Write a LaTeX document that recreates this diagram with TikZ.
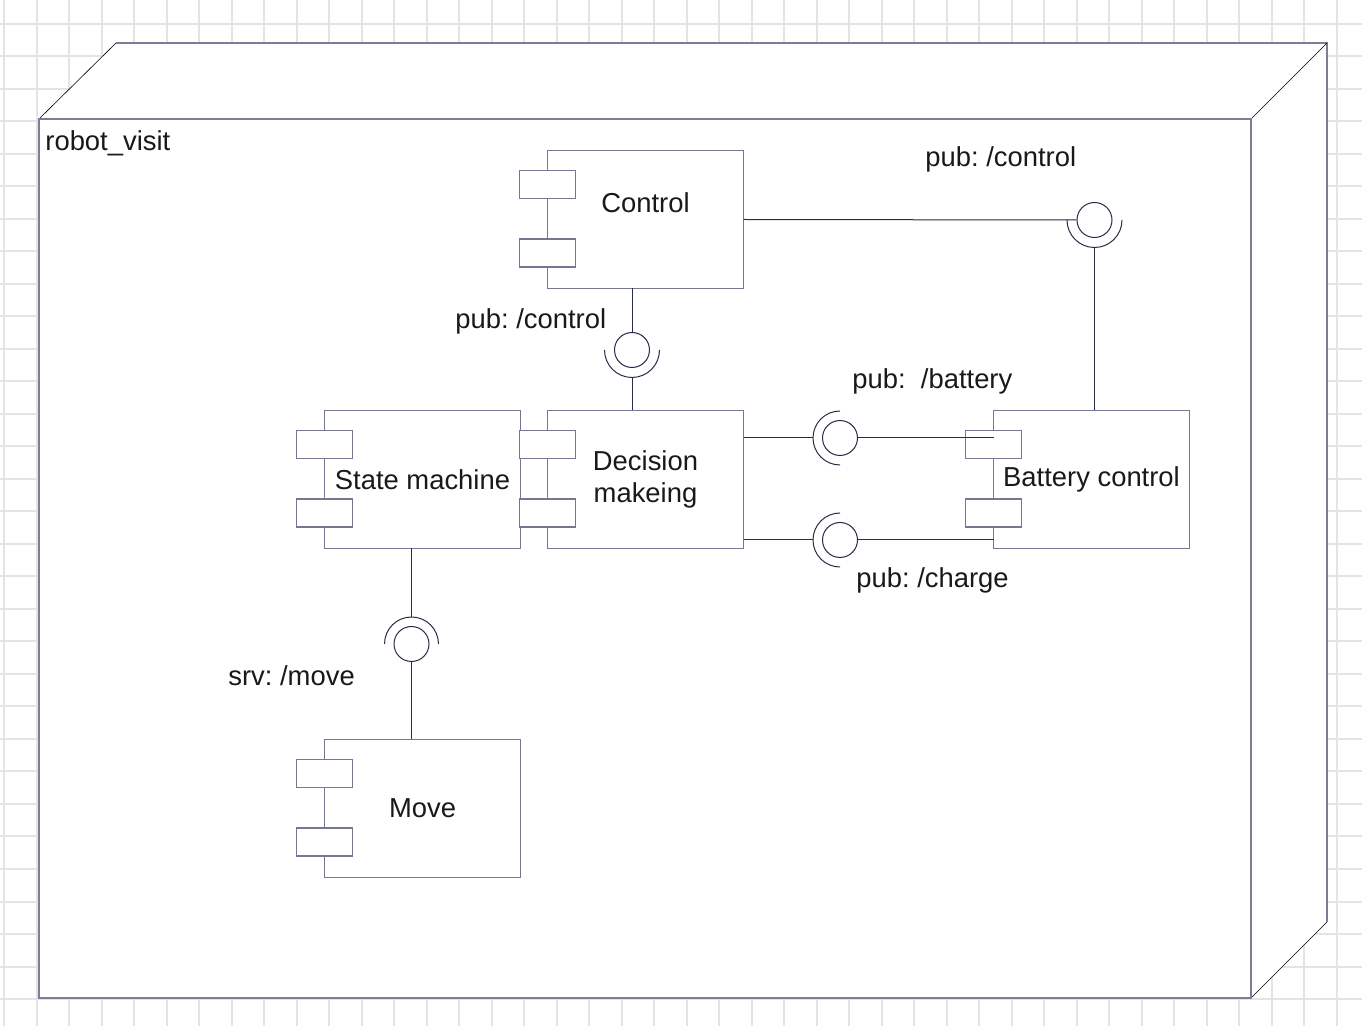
\documentclass[tikz,border=0pt]{standalone}
\usepackage{fontspec}
\setmainfont{Liberation Sans}
\usetikzlibrary{positioning}
\frenchspacing

\definecolor{umlline}{RGB}{116,120,146}
\definecolor{wirecol}{RGB}{40,44,70}
\definecolor{gridcol}{RGB}{228,228,228}
\definecolor{framecol}{RGB}{122,126,150}

\begin{document}
\begin{tikzpicture}[x=0.5pt, y=-0.5pt,
every node/.style={font=\fontsize{13.7}{16}\selectfont, text=black!90},
compbox/.style={rectangle, draw=umlline, fill=white, line width=0.75pt, minimum width=98pt, minimum height=69pt, inner sep=0pt, outer sep=0pt, align=center},
portbox/.style={rectangle, draw=umlline, fill=white, line width=0.75pt, minimum width=28pt, minimum height=14pt, inner sep=0pt, outer sep=0pt},
ball/.style={circle, draw=wirecol, fill=white, line width=0.5pt, minimum size=17.5pt, inner sep=0pt},
socket/.style={draw=wirecol, line width=0.5pt},
wire/.style={draw=wirecol, line width=0.5pt},
iflabel/.style={anchor=base west, inner sep=0pt},
gridline/.style={draw=gridcol, line width=1pt},
]
\fill[white] (0,0) rectangle (1362,1026);
\useasboundingbox (0,0) rectangle (1362,1026);

%Grid
\foreach \gx in {0,...,41} \draw[gridline] ({4+32.5*\gx},0) -- ({4+32.5*\gx},1026);
\foreach \gy in {0,...,30} \draw[gridline] (0,{24+32.5*\gy}) -- (1362,{24+32.5*\gy});

%Frame
\fill[white] (39,119) -- (116,43) -- (1327,43) -- (1327,922) -- (1251,998) -- cycle;
\draw[framecol, line width=1pt] (116,43) -- (1327,43) -- (1327,922);
\draw[black, line width=0.3pt] (39,119) -- (116,43) (1251,119) -- (1327,43) (1251,998) -- (1327,922);
\draw[framecol, line width=1pt, fill=white] (39,119) rectangle (1251,998);
\node[iflabel] (framename) at (45,151) {robot\_visit};

%Nodes
\node[compbox]      (decision)     at (645.5,479.5)           {Decision\\makeing};
\node[compbox]      (statemachine) [left=13.5pt of decision]  {State machine};
\node[compbox, label={[yshift=8.5pt]center:Control}] (control) [above=61pt of decision] {};
\node[compbox]      (battery)      [right=125pt of decision]  {Battery control};
\node[compbox]      (move)         [below=95.5pt of statemachine] {Move};

\foreach \comp in {control,statemachine,decision,battery,move}{
  \node[portbox] (\comp-porta) at ([yshift=-17pt]\comp.north west) {};
  \node[portbox] (\comp-portb) at ([yshift=-51.25pt]\comp.north west) {};
}

%Interfaces
\node[ball] (ctlball) at (632,350)    {};
\node[ball] (topball) at (1094.5,220) {};
\node[ball] (batball) at (840,438)    {};
\node[ball] (chgball) at (840,540)    {};
\node[ball] (movball) at (411.5,644)  {};

\draw[socket] ([shift={(180:13.75pt)}]ctlball.center) arc[start angle=180, end angle=360, radius=13.75pt];
\draw[socket] ([shift={(180:13.75pt)}]topball.center) arc[start angle=180, end angle=360, radius=13.75pt];
\draw[socket] ([shift={(90:13.5pt)}]batball.center) arc[start angle=90, end angle=270, radius=13.5pt];
\draw[socket] ([shift={(90:13.5pt)}]chgball.center) arc[start angle=90, end angle=270, radius=13.5pt];
\draw[socket] ([shift={(0:13.5pt)}]movball.center) arc[start angle=0, end angle=180, radius=13.5pt];

%Lines
\draw[wire] (ctlball |- control.south) -- (ctlball.north);
\draw[wire] ([yshift=-13.75pt]ctlball.center) -- (ctlball |- decision.north);
\draw[wire] (control.east) -- (topball.west);
\draw[wire] ([yshift=-13.75pt]topball.center) -- (topball |- battery.north);
\draw[wire] (decision.east |- batball) -- ([xshift=-13.5pt]batball.center);
\draw[wire] (batball.east) -- (battery.west |- batball);
\draw[wire] (decision.east |- chgball) -- ([xshift=-13.5pt]chgball.center);
\draw[wire] (chgball.east) -- (battery.west |- chgball);
\draw[wire] (movball |- statemachine.south) -- ([yshift=13.5pt]movball.center);
\draw[wire] (movball.south) -- (movball |- move.north);

%Labels
\node[iflabel] (ctltoplabel) at (925,167) {pub: /control};
\node[iflabel] (ctllabel)    at (455,329) {pub: /control};
\node[iflabel] (batlabel)    at (852,389) {pub:\ \ /battery};
\node[iflabel] (chglabel)    at (856,588) {pub: /charge};
\node[iflabel] (movlabel)    at (228,686) {srv: /move};
\end{tikzpicture}
\end{document}
